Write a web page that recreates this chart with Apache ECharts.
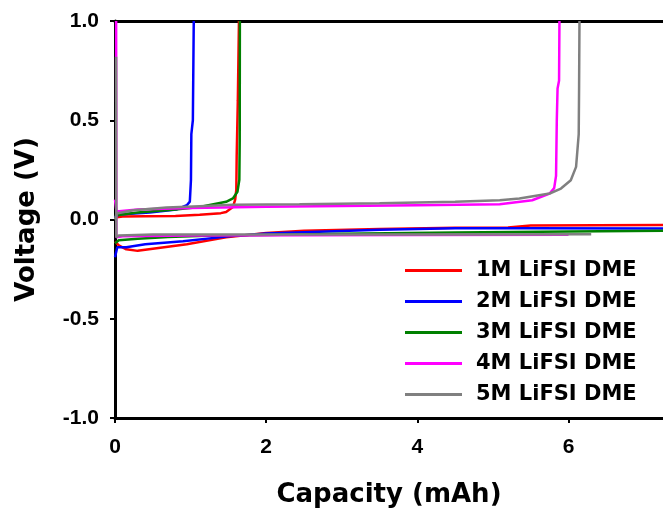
<!DOCTYPE html>
<html>
<head>
<meta charset="utf-8">
<script src="https://cdn.jsdelivr.net/npm/echarts@6/dist/echarts.min.js"></script>
<style>
  html, body { margin: 0; padding: 0; background: #fff; }
  #chart { width: 663px; height: 517px; }
</style>
</head>
<body>
<div id="chart"></div>
<script>
// legend names / colours
const seriesNames = ['1M LiFSI DME', '2M LiFSI DME', '3M LiFSI DME', '4M LiFSI DME', '5M LiFSI DME']
const seriesColors = ['#ff0000', '#0000ff', '#008000', '#ff00ff', '#808080']

const xTicks = [0, 2, 4, 6]

// plating branch (negative voltage), [capacity mAh, voltage V]
const plate1M = [[0, -0.11], [0.05, -0.13], [0.15, -0.15], [0.3, -0.158], [0.55, -0.145], [0.95, -0.125],
  [1.47, -0.09], [2.0, -0.068], [2.5, -0.057], [3.5, -0.048], [4.5, -0.042], [5.2, -0.04], [5.5, -0.03], [7.3, -0.027]]
const plate2M = [[0, -0.19], [0.03, -0.14], [0.15, -0.14], [0.4, -0.125], [0.9, -0.11], [1.5, -0.085],
  [2.0, -0.07], [2.5, -0.064], [3.5, -0.052], [4.5, -0.044], [5.5, -0.044], [7.3, -0.045]]
const plate3M = [[0, -0.12], [0.05, -0.105], [0.3, -0.097], [0.7, -0.088], [1.2, -0.082], [2.0, -0.078],
  [3.0, -0.072], [4.5, -0.066], [6.0, -0.06], [7.3, -0.057]]
const plate4M = [[0.015, 1.0], [0.018, -0.09], [0.1, -0.085], [1.0, -0.08], [2.5, -0.079], [4.0, -0.078], [6.0, -0.077]]
const plate5M = [[0.015, 0.82], [0.018, -0.09], [0.05, -0.08], [0.5, -0.076], [2.0, -0.075], [4.0, -0.075], [6.3, -0.074]]

// stripping branch (positive voltage)
const strip1M = [[0, 0.01], [0.1, 0.015], [0.4, 0.017], [0.8, 0.018], [1.12, 0.024], [1.4, 0.032], [1.47, 0.038],
  [1.56, 0.063], [1.59, 0.1], [1.605, 0.15], [1.61, 0.32], [1.625, 0.6], [1.64, 1.0]]
const strip2M = [[0, 0.01], [0.05, 0.025], [0.46, 0.035], [0.81, 0.05], [0.95, 0.072], [0.99, 0.09],
  [1.005, 0.2], [1.01, 0.43], [1.03, 0.5], [1.042, 1.0]]
const strip3M = [[0, 0.02], [0.3, 0.035], [0.8, 0.05], [1.12, 0.063], [1.47, 0.089], [1.56, 0.106],
  [1.62, 0.14], [1.645, 0.2], [1.65, 0.4], [1.652, 1.0]]
const strip4M = [[0, 0.1], [0.02, 0.04], [0.3, 0.05], [1.0, 0.058], [2.0, 0.064], [3.0, 0.068], [4.0, 0.072],
  [5.09, 0.077], [5.52, 0.097], [5.75, 0.131], [5.81, 0.158], [5.835, 0.22], [5.845, 0.5], [5.855, 0.66],
  [5.875, 0.7], [5.88, 1.0]]
const strip5M = [[0, 0.0], [0.02, 0.03], [0.24, 0.047], [0.68, 0.06], [1.12, 0.067], [1.56, 0.074], [2.44, 0.077],
  [3.5, 0.082], [4.5, 0.09], [5.09, 0.097], [5.35, 0.106], [5.75, 0.131], [5.9, 0.156], [6.03, 0.198],
  [6.1, 0.265], [6.135, 0.43], [6.14, 0.67], [6.145, 1.0]]

const plating = [plate1M, plate2M, plate3M, plate4M, plate5M]
const stripping = [strip1M, strip2M, strip3M, strip4M, strip5M]

const labelFont = 'Liberation Sans, Arial, sans-serif'
const titleFont = 'DejaVu Sans, sans-serif'

const series = []
seriesNames.forEach((name, i) => {
  [plating[i], stripping[i]].forEach((data) => {
    series.push({
      name,
      type: 'line',
      data,
      symbol: 'none',
      showSymbol: false,
      lineStyle: { color: seriesColors[i], width: 2.5 },
      itemStyle: { color: seriesColors[i] },
      animation: false
    })
  })
})

const axisLine = { show: true, onZero: false, lineStyle: { color: '#000', width: 3 } }

const chart = echarts.init(document.getElementById('chart'))
chart.setOption({
  animation: false,
  backgroundColor: '#fff',
  grid: { left: 115, right: 0, top: 21, bottom: 99, containLabel: false },
  legend: {
    data: seriesNames,
    orient: 'vertical',
    left: 400,
    top: 255,
    icon: 'rect',
    itemWidth: 57,
    itemHeight: 3,
    itemGap: 10,
    textStyle: {
      fontFamily: titleFont,
      fontWeight: 'bold',
      fontSize: 21,
      lineHeight: 21,
      color: '#000',
      padding: [0, 0, 0, 9]
    }
  },
  xAxis: [
    {
      type: 'value',
      position: 'bottom',
      min: 0,
      max: 7.25,
      interval: 2,
      axisLine,
      axisTick: { show: true, length: 5, lineStyle: { color: '#000', width: 2 } },
      axisLabel: {
        margin: 19,
        fontFamily: labelFont,
        fontWeight: 'bold',
        fontSize: 21,
        color: '#000',
        showMaxLabel: false,
        formatter: (v) => (xTicks.includes(v) ? String(v) : '')
      },
      splitLine: { show: false },
      name: 'Capacity (mAh)',
      nameLocation: 'middle',
      nameGap: 64,
      nameTextStyle: { fontFamily: titleFont, fontWeight: 'bold', fontSize: 26, color: '#000' }
    },
    {
      type: 'value',
      position: 'top',
      min: 0,
      max: 7.25,
      axisLine,
      axisTick: { show: false },
      axisLabel: { show: false },
      splitLine: { show: false }
    }
  ],
  yAxis: {
    type: 'value',
    min: -1,
    max: 1,
    interval: 0.5,
    axisLine,
    axisTick: { show: true, length: 5, lineStyle: { color: '#000', width: 2 } },
    axisLabel: {
      margin: 16,
      fontFamily: labelFont,
      fontWeight: 'bold',
      fontSize: 21,
      color: '#000',
      formatter: (v) => v.toFixed(1)
    },
    splitLine: { show: false },
    name: 'Voltage (V)',
    nameLocation: 'middle',
    nameRotate: 90,
    nameGap: 75,
    nameTextStyle: { fontFamily: titleFont, fontWeight: 'bold', fontSize: 26, color: '#000' }
  },
  series
})
</script>
</body>
</html>
